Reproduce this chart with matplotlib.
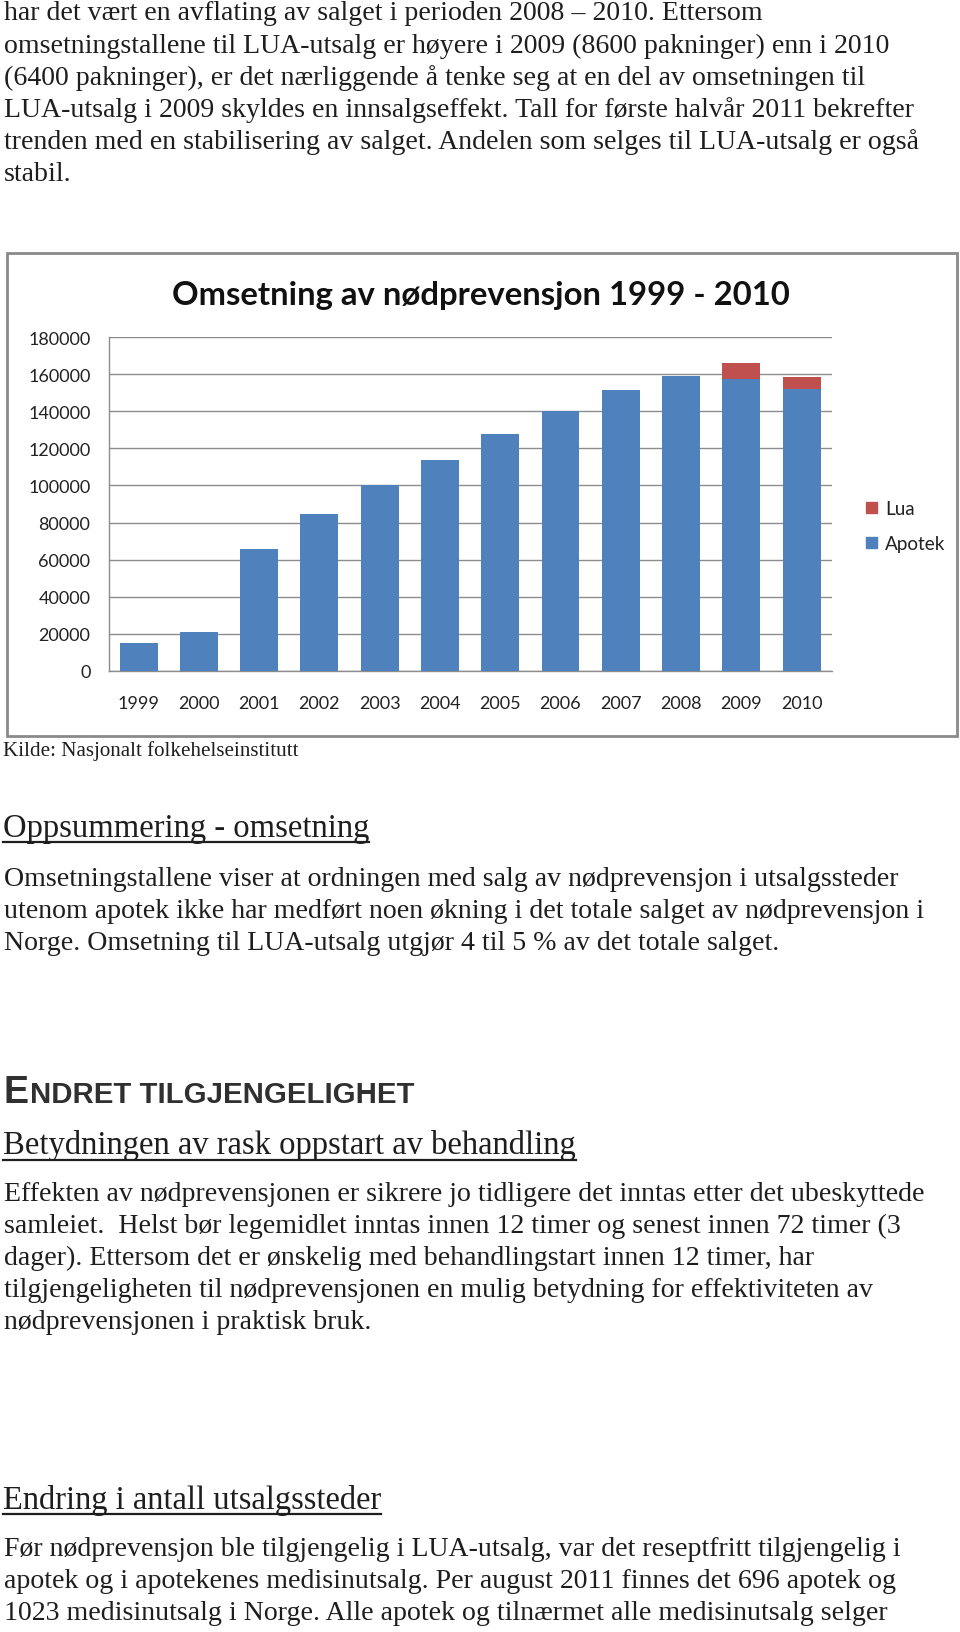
import matplotlib
matplotlib.use("Agg")
import matplotlib.pyplot as plt
from matplotlib.patches import Rectangle, Patch
from matplotlib.lines import Line2D

# ---------------- data ----------------
years = ["1999", "2000", "2001", "2002", "2003", "2004",
         "2005", "2006", "2007", "2008", "2009", "2010"]
apotek = [15000, 21000, 65700, 84600, 100000, 114000,
          128000, 140000, 151400, 159300, 157400, 152000]
lua = [0, 0, 0, 0, 0, 0, 0, 0, 0, 0, 8600, 6400]
yticks = [0, 20000, 40000, 60000, 80000, 100000, 120000, 140000, 160000, 180000]
series_labels = ["Lua", "Apotek"]
chart_title = "Omsetning av nødprevensjon 1999 - 2010"

para1 = [
    "har det vært en avflating av salget i perioden 2008 – 2010. Ettersom",
    "omsetningstallene til LUA-utsalg er høyere i 2009 (8600 pakninger) enn i 2010",
    "(6400 pakninger), er det nærliggende å tenke seg at en del av omsetningen til",
    "LUA-utsalg i 2009 skyldes en innsalgseffekt. Tall for første halvår 2011 bekrefter",
    "trenden med en stabilisering av salget. Andelen som selges til LUA-utsalg er også",
    "stabil.",
]
source = "Kilde: Nasjonalt folkehelseinstitutt"
head1 = "Oppsummering - omsetning"
para2 = [
    "Omsetningstallene viser at ordningen med salg av nødprevensjon i utsalgssteder",
    "utenom apotek ikke har medført noen økning i det totale salget av nødprevensjon i",
    "Norge. Omsetning til LUA-utsalg utgjør 4 til 5 % av det totale salget.",
]
section_first = "E"
section_rest = "NDRET TILGJENGELIGHET"
head2 = "Betydningen av rask oppstart av behandling"
para3 = [
    "Effekten av nødprevensjonen er sikrere jo tidligere det inntas etter det ubeskyttede",
    "samleiet.  Helst bør legemidlet inntas innen 12 timer og senest innen 72 timer (3",
    "dager). Ettersom det er ønskelig med behandlingstart innen 12 timer, har",
    "tilgjengeligheten til nødprevensjonen en mulig betydning for effektiviteten av",
    "nødprevensjonen i praktisk bruk.",
]
head3 = "Endring i antall utsalgssteder"
para4 = [
    "Før nødprevensjon ble tilgjengelig i LUA-utsalg, var det reseptfritt tilgjengelig i",
    "apotek og i apotekenes medisinutsalg. Per august 2011 finnes det 696 apotek og",
    "1023 medisinutsalg i Norge. Alle apotek og tilnærmet alle medisinutsalg selger",
]

# ---------------- figure ----------------
W, H = 960, 1633
fig = plt.figure(figsize=(W / 100, H / 100), dpi=100)
fig.patch.set_facecolor("white")
renderer = fig.canvas.get_renderer()

TXT = "#1e1e1e"
SERIF = ["Liberation Serif", "DejaVu Serif"]


def fx(x):
    return x / W


def fy(y):
    return 1 - y / H


def text_px(x, y, s, size, family, **kw):
    return fig.text(fx(x), fy(y), s, fontsize=size, family=family, **kw)


def fit_size(s, family, target_w, weight="normal", base=20.0):
    t = fig.text(0, 0, s, fontsize=base, family=family, weight=weight)
    w = t.get_window_extent(renderer).width
    t.remove()
    return base * target_w / w


def underline(t, y, lw=1.6, color=TXT):
    bb = t.get_window_extent(renderer)
    fig.add_artist(Line2D([bb.x0 / W, bb.x1 / W], [fy(y), fy(y)],
                          transform=fig.transFigure, color=color, lw=lw))


# body text size fitted to a reference line width
body_size = fit_size(para1[1], SERIF, 885)
LS = 32.1


def paragraph(lines, first_baseline):
    for i, ln in enumerate(lines):
        text_px(4, first_baseline + i * LS, ln, body_size, SERIF,
                color=TXT, va="baseline", ha="left")


paragraph(para1, 20.5)

# ---------------- chart ----------------
# frame
fig.add_artist(Rectangle((fx(7), fy(737)), (957 - 7) / W, (737 - 254) / H,
                         transform=fig.transFigure, fill=False,
                         edgecolor="#8a8a8a", lw=2.0))

title_size = fit_size(chart_title, ["Lato", "DejaVu Sans"], 619, weight="bold")
text_px(481, 295, chart_title, title_size, ["Lato", "DejaVu Sans"],
        weight="bold", ha="center", va="center", color="#111111")

ax = fig.add_axes([fx(108.5), fy(671.7), (831.7 - 108.5) / W, (671.7 - 338.3) / H])
x = list(range(len(years)))
bw = 0.63
ax.bar(x, apotek, width=bw, color="#4F81BD", label=series_labels[1], zorder=3)
ax.bar(x, lua, width=bw, bottom=apotek, color="#C0504D", label=series_labels[0], zorder=3)
ax.set_xlim(-0.5, len(years) - 0.5)
ax.set_ylim(0, 180000)
ax.set_yticks(yticks)
ax.set_yticklabels([str(v) for v in yticks])
ax.set_xticks(x)
ax.set_xticklabels(years)
ax.grid(axis="y", color="#8c8c8c", lw=1.0, zorder=0)
ax.set_axisbelow(True)
for side in ["top", "right"]:
    ax.spines[side].set_visible(False)
for side in ["left", "bottom"]:
    ax.spines[side].set_color("#8c8c8c")
    ax.spines[side].set_linewidth(1.0)
tick_font = ["Lato", "DejaVu Sans"]
ax.tick_params(axis="y", length=0, pad=13.0, labelsize=13.0, labelcolor="#222222")
ax.tick_params(axis="x", length=0, pad=17.5, labelsize=13.0, labelcolor="#222222")
for lab in ax.get_xticklabels() + ax.get_yticklabels():
    lab.set_family(tick_font)

handles = [Patch(color="#C0504D"), Patch(color="#4F81BD")]
fig.legend(handles, series_labels, loc="upper left",
           bbox_to_anchor=(fx(857), fy(492)), frameon=False,
           prop={"family": tick_font, "size": 13.6},
           handlelength=0.55, handleheight=0.55, handletextpad=0.45,
           labelspacing=0.95, borderpad=0, labelcolor="#222222")

# ---------------- text below chart ----------------
src_size = fit_size(source, SERIF, 293)
text_px(3, 756, source, src_size, SERIF, color=TXT, va="baseline")

h_size = fit_size(head1, SERIF, 367)
t1 = text_px(3, 837, head1, h_size, SERIF, color=TXT, va="baseline")
underline(t1, 842.5)

paragraph(para2, 886)

SANS = ["Liberation Sans", "DejaVu Sans"]
e_t = text_px(4, 1103, section_first, 27.0, SANS, weight="bold",
              color="#303030", va="baseline")
bb = e_t.get_window_extent(renderer)
text_px(bb.x1 + 0.5, 1103, section_rest, 21.2, SANS, weight="bold",
        color="#303030", va="baseline")

h2_size = fit_size(head2, SERIF, 573)
t2 = text_px(3, 1154, head2, h2_size, SERIF, color=TXT, va="baseline")
underline(t2, 1160.5)

paragraph(para3, 1201)

h3_size = fit_size(head3, SERIF, 379)
t3 = text_px(3, 1509, head3, h3_size, SERIF, color=TXT, va="baseline")
underline(t3, 1515)

paragraph(para4, 1556)

fig.savefig("out.png", dpi=100, facecolor="white")
